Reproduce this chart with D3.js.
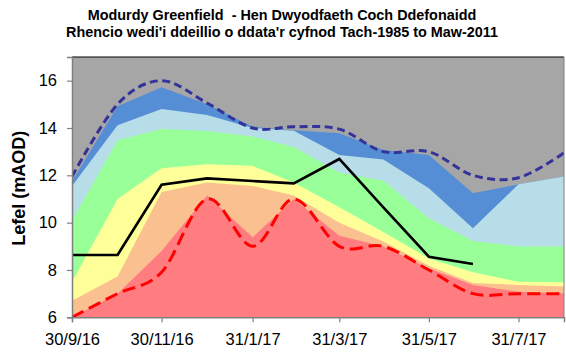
<!DOCTYPE html>
<html>
<head>
<meta charset="utf-8">
<script src="https://cdn.jsdelivr.net/npm/d3@7"></script>
<style>
  body { margin: 0; background: #fff; }
  svg text { font-family: Arial, "Liberation Sans", sans-serif; fill: #000; }
</style>
</head>
<body>
<svg id="chart" width="566" height="360"></svg>
<script>
// Month-end dates of the ranking record
const months = ["2016-09-30", "2016-10-31", "2016-11-30", "2016-12-31", "2017-01-31", "2017-02-28",
                "2017-03-31", "2017-04-30", "2017-05-31", "2017-06-30", "2017-07-31", "2017-08-31"];

// Historic maximum and minimum (mAOD)
const maxLevel = [11.95, 15.0, 16.0, 15.05, 14.0, 14.05, 13.95, 13.0, 13.0, 12.0, 11.9, 12.95];
const minLevel = [6.0, 7.0, 7.9, 11.0, 9.0, 11.0, 9.0, 9.0, 8.0, 7.0, 7.0, 7.0];

// Upper edge of each ranking band (mAOD)
const bandExHigh   = [11.75, 14.92, 15.72, 15.0, 14.05, 13.9, 13.78, 13.07, 12.86, 11.24, 11.62, 11.95];
const bandNotHigh  = [11.55, 14.12, 14.8, 14.55, 14.0, 13.88, 12.86, 12.67, 11.45, 9.76, 11.62, 11.95];
const bandAbove    = [10.1, 13.48, 13.96, 13.87, 13.64, 13.2, 12.12, 11.77, 10.19, 9.22, 8.99, 8.99];
const bandNormal   = [7.5, 11.0, 12.3, 12.47, 12.4, 11.7, 10.65, 9.6, 8.49, 7.9, 7.5, 7.48];
const bandBelow    = [6.7, 7.72, 11.3, 11.7, 11.55, 11.15, 10.0, 9.2, 8.18, 7.45, 7.37, 7.3];
const bandNotLow   = [6.0, 7.0, 8.8, 11.15, 9.38, 11.0, 9.45, 8.99, 8.07, 7.37, 7.08, 7.01];

// Observed levels for the period
const observed = [8.63, 8.63, 11.6, 11.87, 11.76, 11.66, 12.69, 10.65, 8.56, 8.25, null, null];

const xTickDates = ["2016-09-30", "2016-11-30", "2017-01-31", "2017-03-31", "2017-05-31", "2017-07-31"];
const yTicks = [6, 8, 10, 12, 14, 16];

const titleLines = ["Modurdy Greenfield  - Hen Dwyodfaeth Coch Ddefonaidd",
                    "Rhencio wedi'i ddeillio o ddata'r cyfnod Tach-1985 to Maw-2011"];
const yTitle = "Lefel (mAOD)";

const parse = d3.utcParse("%Y-%m-%d");
const dates = months.map(parse);

const svg = d3.select("#chart");
const plot = { left: 72, right: 564, top: 57, bottom: 317.3 };

const x = d3.scaleUtc()
  .domain([parse("2016-09-30"), parse("2017-08-31")])
  .range([plot.left, plot.right]);
const y = d3.scaleLinear().domain([6, 17]).range([plot.bottom, plot.top]);

svg.append("defs").append("clipPath").attr("id", "plotClip")
  .append("rect")
  .attr("x", plot.left).attr("y", plot.top)
  .attr("width", plot.right - plot.left).attr("height", plot.bottom - plot.top);

const g = svg.append("g").attr("clip-path", "url(#plotClip)");

// Background above the highest band
g.append("rect")
  .attr("x", plot.left).attr("y", plot.top)
  .attr("width", plot.right - plot.left).attr("height", plot.bottom - plot.top)
  .attr("fill", "#a6a6a6");

const bands = [
  { top: bandExHigh, color: "#558ed5" },
  { top: bandNotHigh, color: "#b7dde8" },
  { top: bandAbove, color: "#99ff99" },
  { top: bandNormal, color: "#ffff99" },
  { top: bandBelow, color: "#fac090" },
  { top: bandNotLow, color: "#ff7c80" }
];

const area = d3.area()
  .x(d => x(d.date))
  .y0(y(6))
  .y1(d => y(d.v));

bands.forEach(b => {
  g.append("path")
    .datum(dates.map((d, i) => ({ date: d, v: b.top[i] })))
    .attr("fill", b.color)
    .attr("d", area);
});

const smooth = d3.line().x(d => x(d.date)).y(d => y(d.v)).curve(d3.curveCatmullRom.alpha(0));

g.append("path")
  .datum(dates.map((d, i) => ({ date: d, v: maxLevel[i] })))
  .attr("fill", "none").attr("stroke", "#333399").attr("stroke-width", 3)
  .attr("stroke-dasharray", "8,4.5").attr("d", smooth);

g.append("path")
  .datum(dates.map((d, i) => ({ date: d, v: minLevel[i] })))
  .attr("fill", "none").attr("stroke", "#ff0000").attr("stroke-width", 3)
  .attr("stroke-dasharray", "13,6").attr("d", smooth);

const obsLine = d3.line()
  .defined(d => d.v != null)
  .x(d => x(d.date)).y(d => y(d.v));

g.append("path")
  .datum(dates.map((d, i) => ({ date: d, v: observed[i] })))
  .attr("fill", "none").attr("stroke", "#000").attr("stroke-width", 2.6)
  .attr("stroke-linejoin", "miter").attr("d", obsLine);

// Plot frame
svg.append("line").attr("x1", plot.left).attr("x2", plot.right)
  .attr("y1", plot.top).attr("y2", plot.top).attr("stroke", "#000").attr("stroke-width", 1);
svg.append("line").attr("x1", plot.right).attr("x2", plot.right)
  .attr("y1", plot.top).attr("y2", plot.bottom).attr("stroke", "#808080").attr("stroke-width", 1);

// Axes
const fmt = d => `${d.getUTCDate()}/${d.getUTCMonth() + 1}/${String(d.getUTCFullYear()).slice(2)}`;
const xAxis = d3.axisBottom(x).tickValues(xTickDates.map(parse)).tickFormat(fmt)
  .tickSize(5).tickPadding(11);
const xg = svg.append("g").attr("transform", `translate(0,${plot.bottom})`).call(xAxis);
const yAxis = d3.axisLeft(y).tickValues(yTicks).tickSize(5).tickPadding(10);
const yg = svg.append("g").attr("transform", `translate(${plot.left},0)`).call(yAxis);

[xg, yg].forEach(a => {
  a.select(".domain").attr("stroke", "#808080").attr("stroke-width", 1.5);
  a.selectAll(".tick line").attr("stroke", "#808080").attr("stroke-width", 1.2);
  a.selectAll(".tick text").style("font-size", "16.5px").attr("fill", "#000");
});

// Axis title
svg.append("text")
  .attr("transform", `translate(25,${(plot.top + plot.bottom) / 2 + 1}) rotate(-90)`)
  .attr("text-anchor", "middle")
  .style("font-size", "18px").style("font-weight", "bold")
  .text(yTitle);

// Chart title
titleLines.forEach((t, i) => {
  svg.append("text")
    .attr("x", 282).attr("y", 20 + i * 17)
    .attr("text-anchor", "middle")
    .style("font-size", "14.4px").style("font-weight", "bold")
    .style("white-space", "pre")
    .text(t);
});
</script>
</body>
</html>
